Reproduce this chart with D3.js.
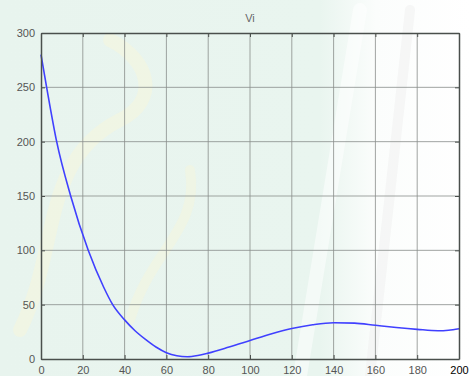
<!DOCTYPE html>
<html>
<head>
<meta charset="utf-8">
<script src="https://cdn.jsdelivr.net/npm/d3@7"></script>
<style>
  body { margin: 0; background: #fff; }
  svg { display: block; font-family: "Liberation Sans", Arial, sans-serif; }
</style>
</head>
<body>
<svg width="470" height="376"></svg>
<script>
// values
const tValues = [0, 2.7, 7.5, 14.2, 22.6, 30, 34.3, 40, 45, 50, 55, 60, 65, 70, 75, 80, 90, 100, 110, 120, 130, 140, 150, 160, 170, 180, 190, 195, 200];
const viValues = [280, 250, 200, 150, 100, 66, 50, 36, 26, 18, 11, 5.8, 3, 2.1, 3.2, 5.4, 11, 17, 23, 28, 31.5, 33.4, 33, 31, 29, 27.3, 26, 26.5, 27.9];
const xTicks = [0, 20, 40, 60, 80, 100, 120, 140, 160, 180, 200];
const yTicks = [0, 50, 100, 150, 200, 250, 300];
const chartTitle = "Vi";

const svg = d3.select("svg");
const margin = {top: 33, left: 41, right: 11, bottom: 17},
    width = +svg.attr("width") - margin.left - margin.right,
    height = +svg.attr("height") - margin.top - margin.bottom;

// page background: pale mint fading to white on the right
const defs = svg.append("defs");
const grad = defs.append("linearGradient").attr("id", "bg").attr("x1", 0).attr("x2", 1).attr("y1", 0).attr("y2", 0);
grad.append("stop").attr("offset", "0").attr("stop-color", "#e8f4ee");
grad.append("stop").attr("offset", "0.68").attr("stop-color", "#e9f5ef");
grad.append("stop").attr("offset", "0.8").attr("stop-color", "#fbfdfc");
grad.append("stop").attr("offset", "1").attr("stop-color", "#ffffff");
svg.append("rect").attr("width", 470).attr("height", 376).attr("fill", "url(#bg)");

// faint watermark strokes
const wm = svg.append("g").attr("fill", "none").attr("stroke-linecap", "round");
wm.append("path").attr("d", "M20,330 C60,250 40,160 120,120 C160,100 150,60 110,40")
    .attr("stroke", "#f6f6dc").attr("stroke-width", 14).attr("opacity", 0.55);
wm.append("path").attr("d", "M130,320 C150,250 200,230 190,170")
    .attr("stroke", "#f6f6dc").attr("stroke-width", 10).attr("opacity", 0.5);
wm.append("path").attr("d", "M360,10 L300,376").attr("stroke", "#ffffff").attr("stroke-width", 14).attr("opacity", 0.5);
wm.append("path").attr("d", "M410,10 L370,376").attr("stroke", "#f0f0f0").attr("stroke-width", 10).attr("opacity", 0.5);

const x = d3.scaleLinear().domain([0, 200]).range([0, width]);
const y = d3.scaleLinear().domain([0, 300]).range([height, 0]);

const g = svg.append("g").attr("transform", "translate(" + margin.left + "," + margin.top + ")");

// grid
g.append("g").selectAll("line").data(xTicks.slice(1, -1)).enter().append("line")
    .attr("x1", d => x(d)).attr("x2", d => x(d)).attr("y1", 0).attr("y2", height)
    .attr("stroke", "#8a8f8c").attr("stroke-width", 1).attr("opacity", 0.8);
g.append("g").selectAll("line").data(yTicks.slice(1, -1)).enter().append("line")
    .attr("y1", d => y(d)).attr("y2", d => y(d)).attr("x1", 0).attr("x2", width)
    .attr("stroke", "#8a8f8c").attr("stroke-width", 1).attr("opacity", 0.8);

// curve
const line = d3.line().x((d, i) => x(tValues[i])).y(d => y(d)).curve(d3.curveMonotoneX);
g.append("path").datum(viValues).attr("d", line)
    .attr("fill", "none").attr("stroke", "#4040ff").attr("stroke-width", 1.6);

// axes with inward ticks
const xaxis = g.append("g").attr("transform", "translate(0," + height + ")")
    .call(d3.axisBottom(x).tickValues(xTicks).tickSizeInner(-4).tickSizeOuter(0).tickPadding(7));
const yaxis = g.append("g")
    .call(d3.axisLeft(y).tickValues(yTicks).tickSizeInner(-4).tickSizeOuter(0).tickPadding(6));
g.append("g").call(d3.axisTop(x).tickValues(xTicks).tickSizeInner(-4).tickSizeOuter(0)).selectAll("text").remove();
g.append("g").attr("transform", "translate(" + width + ",0)")
    .call(d3.axisRight(y).tickValues(yTicks).tickSizeInner(-4).tickSizeOuter(0)).selectAll("text").remove();

g.selectAll(".domain").attr("stroke", "#4a4f4c").attr("stroke-width", 1.5);
g.selectAll(".tick line").attr("stroke", "#4a4f4c");
g.selectAll(".tick text").attr("fill", "#555").style("font-size", "11px");
xaxis.selectAll(".tick text").filter(d => d === 200).attr("fill", "#000");

svg.append("text").attr("x", margin.left + width / 2).attr("y", 22)
    .attr("text-anchor", "middle").attr("fill", "#666").style("font-size", "11px").text(chartTitle);
</script>
</body>
</html>
